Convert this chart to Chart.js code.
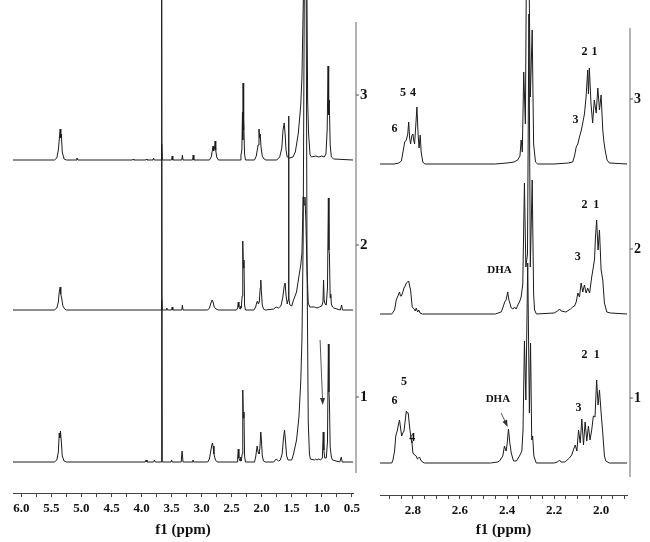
<!DOCTYPE html>
<html>
<head>
<meta charset="utf-8">
<script src="https://cdn.jsdelivr.net/npm/chart.js@4.4.0/dist/chart.umd.min.js"></script>
<style>
  body { margin: 0; background: #fff; }
  #wrap { position: relative; width: 650px; height: 542px; }
  canvas { position: absolute; top: 0; }
  #leftChart { left: 0; }
  #rightChart { left: 368px; }
</style>
</head>
<body>
<div id="wrap">
  <canvas id="leftChart" width="380" height="542"></canvas>
  <canvas id="rightChart" width="282" height="542"></canvas>
</div>
<script>
// spectrum names shown at the right of each panel (bottom to top)
const specLabels = ["1", "2", "3"];

// tick labels
const leftTicks = [6.0, 5.75, 5.5, 5.25, 5.0, 4.75, 4.5, 4.25, 4.0, 3.75, 3.5, 3.25, 3.0, 2.75, 2.5, 2.25, 2.0, 1.75, 1.5, 1.25, 1.0, 0.75, 0.5];
const leftTickLabels = ["6.0", "5.5", "5.0", "4.5", "4.0", "3.5", "3.0", "2.5", "2.0", "1.5", "1.0", "0.5"];
const rightTicks = [2.9, 2.85, 2.8, 2.75, 2.7, 2.65, 2.6, 2.55, 2.5, 2.45, 2.4, 2.35, 2.3, 2.25, 2.2, 2.15, 2.1, 2.05, 2.0, 1.95, 1.9];
const rightTickLabels = ["2.8", "2.6", "2.4", "2.2", "2.0"];

// full spectra [ppm, intensity]
const leftSpec1 = [
  [6.14,0],[5.45,0],[5.41,2],[5.385,10],[5.37,29],[5.36,24],[5.35,31],[5.335,20],[5.32,6],[5.29,1],[5.25,0],
  [3.94,0],[3.925,2],[3.91,0],[3.80,0],[3.785,2],[3.77,0],
  [3.675,0],[3.665,480],[3.655,0],
  [3.51,0],[3.50,2],[3.49,0],[3.34,0],[3.325,11],[3.31,0],[3.16,0],[3.145,2],[3.13,0],
  [2.90,0],[2.87,3],[2.845,12],[2.83,17],[2.82,19],[2.81,16],[2.795,8],[2.77,2],[2.74,0],
  [2.41,0],[2.40,4],[2.39,13],[2.38,4],[2.36,1],[2.35,5],[2.34,1],[2.325,8],[2.315,72],[2.305,44],[2.295,50],[2.285,6],[2.27,0],
  [2.12,0],[2.10,5],[2.085,12],[2.075,16],[2.06,10],[2.045,8],[2.03,14],[2.015,30],[2.005,22],[1.99,6],[1.97,1],[1.94,0],
  [1.80,0],[1.76,3],[1.72,1],[1.69,2],[1.66,8],[1.635,25],[1.62,32],[1.605,22],[1.585,6],[1.56,2],
  [1.50,2],[1.47,8],[1.42,22],[1.38,45],[1.35,80],[1.33,122],[1.31,220],[1.29,480],[1.26,480],[1.245,200],[1.225,40],[1.205,8],[1.19,3],
  [1.12,2],[1.10,3],[1.08,2],[1.05,3],[1.02,2],[0.99,4],[0.975,30],[0.965,12],[0.95,4],[0.925,4],[0.905,20],[0.89,118],[0.88,70],[0.872,59],[0.86,15],[0.84,5],[0.82,2],
  [0.70,0],[0.675,5],[0.66,0],[0.48,0]
];
const leftSpec2 = [
  [6.14,0],[5.45,0],[5.41,2],[5.385,8],[5.37,18],[5.355,23],[5.345,16],[5.33,12],[5.31,4],[5.28,1],[5.25,0],
  [3.675,0],[3.665,10],[3.655,0],[3.59,0],[3.58,2],[3.57,0],
  [3.50,0],[3.49,3],[3.48,0],[3.33,0],[3.32,5],[3.31,0],
  [2.90,0],[2.87,2],[2.845,7],[2.825,10],[2.81,8],[2.79,3],[2.76,1],[2.72,0],
  [2.42,0],[2.40,2],[2.39,8],[2.38,3],[2.36,1],[2.35,4],[2.34,2],[2.325,14],[2.315,69],[2.305,42],[2.295,50],[2.285,5],[2.27,0],
  [2.13,0],[2.10,3],[2.085,7],[2.07,9],[2.055,6],[2.04,8],[2.025,22],[2.015,30],[2.005,18],[1.99,5],[1.97,1],[1.94,0],
  [1.80,1],[1.76,3],[1.72,2],[1.68,4],[1.65,12],[1.625,24],[1.61,27],[1.595,15],[1.575,6],
  [1.56,10],[1.553,194],[1.546,12],[1.53,5],
  [1.50,4],[1.47,10],[1.42,18],[1.39,30],[1.35,45],[1.33,57],[1.31,113],[1.295,105],[1.28,113],[1.265,90],[1.245,40],[1.225,7],[1.20,3],
  [1.12,3],[1.08,2],[1.04,3],[1.00,4],[0.98,8],[0.97,30],[0.96,10],[0.945,6],[0.925,5],[0.905,22],[0.89,112],[0.88,60],[0.872,55],[0.86,12],[0.85,16],[0.84,6],[0.82,3],[0.80,2],
  [0.69,0],[0.67,5],[0.655,0],[0.48,0]
];
const leftSpec3 = [
  [6.14,0],[5.45,0],[5.41,2],[5.385,10],[5.365,24],[5.355,31],[5.345,22],[5.335,26],[5.32,8],[5.29,1],[5.25,0],
  [5.09,0],[5.075,2],[5.06,0],
  [4.15,0],[4.14,1],[4.13,0],[3.93,0],[3.92,1],[3.91,0],[3.81,0],[3.80,2],[3.79,0],
  [3.675,0],[3.665,16],[3.655,0],
  [3.50,0],[3.49,4],[3.48,0],[3.33,0],[3.32,5],[3.31,0],[3.15,0],[3.14,5],[3.13,0],
  [2.87,0],[2.84,3],[2.82,10],[2.81,14],[2.80,9],[2.785,12],[2.775,19],[2.765,10],[2.75,3],[2.72,0],
  [2.36,0],[2.345,5],[2.33,10],[2.32,48],[2.315,20],[2.31,77],[2.305,30],[2.295,40],[2.285,6],[2.27,0],
  [2.12,0],[2.09,4],[2.06,15],[2.045,31],[2.035,22],[2.025,26],[2.01,12],[1.99,4],[1.96,1],[1.93,0],
  [1.75,0],[1.70,3],[1.665,12],[1.645,30],[1.625,37],[1.61,26],[1.595,10],[1.575,3],[1.54,2],
  [1.48,3],[1.44,8],[1.39,27],[1.35,55],[1.33,83],[1.31,150],[1.295,200],[1.27,200],[1.25,200],[1.235,60],[1.22,27],[1.195,5],[1.17,3],
  [1.10,4],[1.05,3],[1.00,4],[0.96,3],[0.93,6],[0.91,30],[0.895,94],[0.885,45],[0.875,60],[0.86,15],[0.84,3],[0.80,1],[0.48,0]
];

// expanded region 2.94 - 1.89 ppm
const rightSpec1 = [
  [2.94,0],[2.89,0],[2.885,3],[2.878,12],[2.873,27],[2.866,33],[2.862,38],[2.857,43],[2.852,34],[2.848,27],[2.843,30],[2.838,32],[2.833,42],[2.828,52],[2.824,50],[2.820,50],[2.815,38],[2.811,30],[2.806,22],[2.804,20],[2.800,10],[2.793,8],[2.786,7],[2.781,4],[2.776,5],[2.772,6],[2.767,3],[2.760,1],[2.75,0],
  [2.47,0],[2.44,1],[2.432,2],[2.418,7],[2.411,17],[2.404,12],[2.399,20],[2.394,34],[2.388,20],[2.382,10],[2.375,4],[2.372,2],[2.36,2],[2.347,7],[2.337,12],[2.332,33],[2.326,122],[2.320,63],[2.312,200],[2.305,50],[2.300,120],[2.295,23],[2.291,27],[2.286,7],[2.276,0],
  [2.20,0],[2.185,1],[2.177,3],[2.17,1],[2.155,1],[2.149,2],[2.135,5],[2.125,8],[2.118,13],[2.110,18],[2.103,12],[2.096,33],[2.089,20],[2.082,44],[2.075,18],[2.068,41],[2.061,22],[2.054,37],[2.047,23],[2.040,33],[2.033,47],[2.026,46],[2.019,83],[2.013,58],[2.007,73],[2.000,50],[1.993,30],[1.986,7],[1.980,2],[1.965,0],[1.89,0]
];
const rightSpec2 = [
  [2.94,0],[2.89,0],[2.878,4],[2.871,14],[2.864,18],[2.857,22],[2.853,18],[2.849,18],[2.843,22],[2.838,26],[2.833,28],[2.828,31],[2.822,32],[2.818,33],[2.814,28],[2.810,24],[2.806,14],[2.803,7],[2.795,5],[2.790,3],[2.786,6],[2.780,2],[2.775,4],[2.77,1],[2.76,0],
  [2.45,0],[2.425,2],[2.418,6],[2.410,12],[2.404,14],[2.397,22],[2.392,14],[2.388,11],[2.382,6],[2.375,5],[2.368,7],[2.361,5],[2.354,9],[2.347,12],[2.340,17],[2.333,30],[2.326,131],[2.320,47],[2.313,60],[2.307,300],[2.301,47],[2.293,134],[2.287,20],[2.283,4],[2.275,0],
  [2.20,1],[2.185,3],[2.177,5],[2.17,3],[2.15,2],[2.13,5],[2.121,7],[2.113,8],[2.106,12],[2.099,21],[2.092,17],[2.085,31],[2.078,22],[2.071,29],[2.064,21],[2.057,26],[2.049,21],[2.040,37],[2.033,47],[2.028,55],[2.024,77],[2.019,94],[2.013,64],[2.007,84],[2.000,44],[1.993,34],[1.986,11],[1.976,2],[1.96,1],[1.89,0]
];
const rightSpec3 = [
  [2.94,0],[2.88,0],[2.86,1],[2.849,3],[2.84,15],[2.835,22],[2.828,24],[2.822,30],[2.818,42],[2.814,26],[2.810,20],[2.805,28],[2.800,30],[2.797,24],[2.793,20],[2.788,38],[2.783,57],[2.778,30],[2.774,16],[2.769,29],[2.765,12],[2.758,2],[2.75,0],
  [2.45,0],[2.40,1],[2.37,2],[2.355,4],[2.345,8],[2.340,24],[2.335,12],[2.329,92],[2.322,40],[2.316,250],[2.309,250],[2.301,67],[2.293,134],[2.287,20],[2.279,2],[2.27,0],
  [2.20,0],[2.14,1],[2.121,2],[2.113,8],[2.106,17],[2.099,20],[2.092,27],[2.085,33],[2.078,41],[2.071,50],[2.064,67],[2.057,94],[2.054,70],[2.050,96],[2.043,60],[2.036,41],[2.029,64],[2.021,51],[2.014,76],[2.007,54],[2.000,69],[1.993,34],[1.988,22],[1.983,14],[1.975,4],[1.965,1],[1.89,0]
];

// peak labels: [text, ppm, height on the stacked scale]
const leftNotes = [];
const rightNotes = [
  ["6", 2.878, 334], ["5", 2.842, 370], ["4", 2.800, 370], ["3", 2.109, 343], ["2", 2.071, 411], ["1", 2.028, 411],
  ["DHA", 2.432, 193], ["3", 2.099, 206], ["2", 2.071, 258], ["1", 2.021, 258],
  ["6", 2.878, 62], ["5", 2.838, 81], ["4", 2.803, 25], ["DHA", 2.439, 64], ["3", 2.096, 55], ["2", 2.071, 108], ["1", 2.019, 108]
];
// arrows: [fromPpm, fromY, toPpm, toY]
const leftArrows = [[1.028, 122, 0.983, 57]];
const rightArrows = [[2.425, 50, 2.397, 36]];

const serif = "'Liberation Serif', 'Times New Roman', serif";

function makeDecor(cfg) {
  return {
    id: "decor",
    afterDraw(chart) {
      const { ctx, chartArea } = chart;
      const xs = chart.scales.x, ys = chart.scales.y;
      ctx.save();
      const gx = chartArea.right + 3;
      ctx.strokeStyle = "#9a9a9a";
      ctx.lineWidth = 1.5;
      ctx.beginPath();
      ctx.moveTo(gx, ys.getPixelForValue(cfg.lineTop));
      ctx.lineTo(gx, ys.getPixelForValue(cfg.lineBottom));
      ctx.stroke();

      ctx.fillStyle = "#111";
      ctx.textBaseline = "middle";
      ctx.textAlign = "left";
      ctx.font = "bold " + cfg.numSize + "px " + serif;
      ctx.lineWidth = 1;
      ctx.strokeStyle = "#555";
      cfg.offsets.forEach((off, i) => {
        const py = ys.getPixelForValue(off + 65);
        ctx.beginPath();
        ctx.moveTo(gx, py);
        ctx.lineTo(gx + 3, py);
        ctx.stroke();
        ctx.fillText(specLabels[i], gx + 4, py);
      });

      ctx.textAlign = "center";
      cfg.notes.forEach(([t, px, py]) => {
        ctx.font = "bold " + (t.length > 1 ? 11 : 12) + "px " + serif;
        ctx.fillText(t, xs.getPixelForValue(px), ys.getPixelForValue(py));
      });

      ctx.strokeStyle = "#555";
      ctx.fillStyle = "#333";
      cfg.arrows.forEach(([x1, y1, x2, y2]) => {
        const ax = xs.getPixelForValue(x1), ay = ys.getPixelForValue(y1);
        const bx = xs.getPixelForValue(x2), by = ys.getPixelForValue(y2);
        const ang = Math.atan2(by - ay, bx - ax);
        ctx.beginPath();
        ctx.moveTo(ax, ay);
        ctx.lineTo(bx - 5 * Math.cos(ang), by - 5 * Math.sin(ang));
        ctx.stroke();
        ctx.beginPath();
        ctx.moveTo(bx, by);
        ctx.lineTo(bx - 7 * Math.cos(ang) + 2.5 * Math.sin(ang), by - 7 * Math.sin(ang) - 2.5 * Math.cos(ang));
        ctx.lineTo(bx - 7 * Math.cos(ang) - 2.5 * Math.sin(ang), by - 7 * Math.sin(ang) + 2.5 * Math.cos(ang));
        ctx.closePath();
        ctx.fill();
      });
      ctx.restore();
    }
  };
}

function makeChart(id, specs, cfg) {
  const datasets = specs.map((spec, i) => ({
    data: spec.map(([p, v]) => ({ x: p, y: v + cfg.offsets[i] })),
    borderColor: "#1c1c1c",
    borderWidth: 1,
    pointRadius: 0,
    tension: 0,
    fill: false
  }));
  return new Chart(document.getElementById(id), {
    type: "line",
    data: { datasets: datasets },
    options: {
      responsive: false,
      animation: false,
      layout: { padding: { left: cfg.padLeft, right: cfg.padRight, top: 0, bottom: 0 } },
      plugins: { legend: { display: false }, tooltip: { enabled: false } },
      scales: {
        x: {
          type: "linear",
          reverse: true,
          min: cfg.xMin,
          max: cfg.xMax,
          afterBuildTicks: (scale) => { scale.ticks = cfg.ticks.map(v => ({ value: v })); },
          afterFit: (scale) => { scale.height = cfg.axisHeight; },
          grid: { drawOnChartArea: false, drawTicks: true, tickLength: 4, color: "#444" },
          border: { display: true, color: "#444", width: 1 },
          ticks: {
            autoSkip: false,
            maxRotation: 0,
            minRotation: 0,
            padding: 4,
            color: "#111",
            font: { family: serif, size: 13, weight: "bold" },
            callback: (value) => cfg.tickLabels.find(l => Math.abs(parseFloat(l) - value) < 1e-6) || ""
          },
          title: {
            display: true,
            text: "f1 (ppm)",
            color: "#111",
            font: { family: serif, size: 15, weight: "bold" },
            padding: { top: 0, bottom: 3 }
          }
        },
        y: { display: false, min: cfg.yMin, max: cfg.yMax }
      }
    },
    plugins: [makeDecor(cfg)]
  });
}

makeChart("leftChart", [leftSpec1, leftSpec2, leftSpec3], {
  offsets: [0, 152, 302],
  xMin: 0.48, xMax: 6.14,
  ticks: leftTicks, tickLabels: leftTickLabels,
  yMin: -31, yMax: 462,
  axisHeight: 49, padLeft: 13, padRight: 27,
  lineTop: 440, lineBottom: -11, numSize: 15,
  notes: leftNotes, arrows: leftArrows
});

makeChart("rightChart", [rightSpec1, rightSpec2, rightSpec3], {
  offsets: [0, 149, 299],
  xMin: 1.89, xMax: 2.94,
  ticks: rightTicks, tickLabels: rightTickLabels,
  yMin: -32, yMax: 463,
  axisHeight: 47, padLeft: 12, padRight: 23,
  lineTop: 435, lineBottom: -14, numSize: 14,
  notes: rightNotes, arrows: rightArrows
});
</script>
</body>
</html>
